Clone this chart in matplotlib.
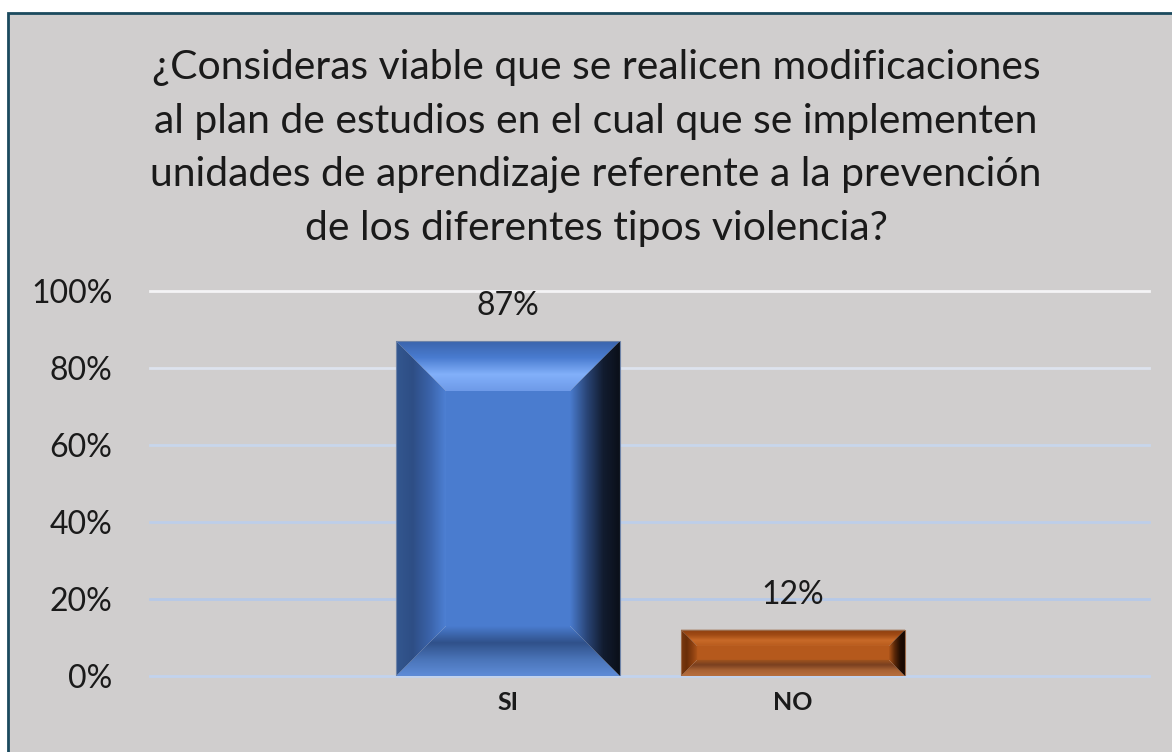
import numpy as np
import matplotlib
matplotlib.use("Agg")
import matplotlib.pyplot as plt
from matplotlib.colors import LinearSegmentedColormap
from matplotlib.patches import Polygon, Rectangle

categories = ["SI", "NO"]
values = [0.87, 0.12]
value_labels = ["87%", "12%"]
yticks = [0, 0.2, 0.4, 0.6, 0.8, 1.0]
ytick_labels = ["0%", "20%", "40%", "60%", "80%", "100%"]
title = ("¿Consideras viable que se realicen modificaciones\n"
         "al plan de estudios en el cual que se implementen\n"
         "unidades de aprendizaje referente a la prevención\n"
         "de los diferentes tipos violencia?")

# face colours, listed from inner edge to outer edge
bar_styles = [
    {"center": "#4A7CCF",
     "top": ["#6E9AE8", "#82B0FA", "#4A7CD0", "#3A64AC"],
     "bottom": ["#4A7CCF", "#30518A", "#4A74B8", "#5E8CD8"],
     "left": ["#4D80D4", "#3A62A8", "#2E4E85", "#33578F"],
     "right": ["#4A7CCF", "#2A4678", "#121C30", "#0A0F18"],
     "edge": "#6F84A8"},
    {"center": "#B5591C",
     "top": ["#B85B1C", "#C86A28", "#A04A14", "#8A3D0E"],
     "bottom": ["#A5561E", "#7A4020", "#A86234", "#B87040"],
     "left": ["#B0561A", "#8A3F10", "#6A2E08", "#7A3A10"],
     "right": ["#B0561A", "#5A2808", "#200C02", "#120601"],
     "edge": "#9A6A4A"},
]

W, H = 1172, 752
fig = plt.figure(figsize=(W / 100, H / 100), dpi=100)
fig.patch.set_facecolor("white")
fig.patches.append(Rectangle((8 / W, -0.02), 1.1, 1 - 13 / H + 0.02,
                             transform=fig.transFigure, facecolor="#D0CECE",
                             edgecolor="#1B4A5E", linewidth=2, zorder=-5))

ax = fig.add_axes([150 / W, 1 - 676 / H, 999 / W, 385 / H])
ax.set_facecolor("none")
ax.set_zorder(2)
x = np.arange(len(categories))
xlim = (-1.256, 2.249)
px_x = (xlim[1] - xlim[0]) / 999
px_y = 1.0 / 385
bw = 224 * px_x


def face(poly, extent, colors, horizontal, reverse):
    cmap = LinearSegmentedColormap.from_list("f", colors)
    g = np.linspace(0, 1, 256)
    if reverse:
        g = g[::-1]
    arr = g[None, :] if horizontal else g[:, None]
    im = ax.imshow(arr, extent=extent, origin="lower", aspect="auto",
                   cmap=cmap, vmin=0, vmax=1, zorder=2, interpolation="bilinear")
    p = Polygon(poly, closed=True, transform=ax.transData, facecolor="none",
                edgecolor="none")
    ax.add_patch(p)
    im.set_clip_path(p)


bars = ax.bar(x, values, width=bw, color="none", zorder=3)
for bar, st in zip(bars, bar_styles):
    x0 = bar.get_x()
    x1 = x0 + bar.get_width()
    h = bar.get_height()
    b = min(50, 0.35 * h / px_y)
    bx, by = b * px_x, b * px_y
    ax.add_patch(Rectangle((x0 + bx, by), x1 - x0 - 2 * bx, h - 2 * by,
                           facecolor=st["center"], edgecolor="none", zorder=2))
    face([(x0, h), (x1, h), (x1 - bx, h - by), (x0 + bx, h - by)],
         [x0, x1, h - by, h], st["top"], False, False)
    face([(x0, 0), (x1, 0), (x1 - bx, by), (x0 + bx, by)],
         [x0, x1, 0, by], st["bottom"], False, True)
    face([(x0, 0), (x0, h), (x0 + bx, h - by), (x0 + bx, by)],
         [x0, x0 + bx, 0, h], st["left"], True, True)
    face([(x1, 0), (x1, h), (x1 - bx, h - by), (x1 - bx, by)],
         [x1 - bx, x1, 0, h], st["right"], True, False)
    ax.add_patch(Rectangle((x0, 0), x1 - x0, h, facecolor="none",
                           edgecolor=st["edge"], linewidth=0.8, zorder=4))

grid_colors = ["#C2D3EE", "#B6C9E8", "#BDCEEA", "#C8D6EC", "#DDE3EE", "#F4F4F6"]
for t, c in zip(yticks, grid_colors):
    ax.axhline(t, color=c, linewidth=2, zorder=1, clip_on=False)

for xi, v, lab in zip(x, values, value_labels):
    ax.annotate(lab, (xi, v), xytext=(0, 25), textcoords="offset points",
                ha="center", va="center", fontsize=23, family="Lato",
                color="#1A1A1A")

ax.set_xlim(*xlim)
ax.set_ylim(0, 1)
ax.set_yticks(yticks)
ax.set_yticklabels(ytick_labels, fontsize=23, family="Lato", color="#1A1A1A")
ax.set_xticks(x)
ax.set_xticklabels(categories, fontsize=18, family="Lato", fontweight="bold",
                   color="#1A1A1A")
ax.tick_params(axis="y", length=0, pad=27)
ax.tick_params(axis="x", length=0, pad=11)
for s in ax.spines.values():
    s.set_visible(False)

fig.text(596 / W, 1 - 148 / H, title, ha="center", va="center",
         fontsize=29.4, family="Lato", color="#1A1A1A", linespacing=1.56)

fig.savefig("out.png", dpi=100, facecolor=fig.get_facecolor())
